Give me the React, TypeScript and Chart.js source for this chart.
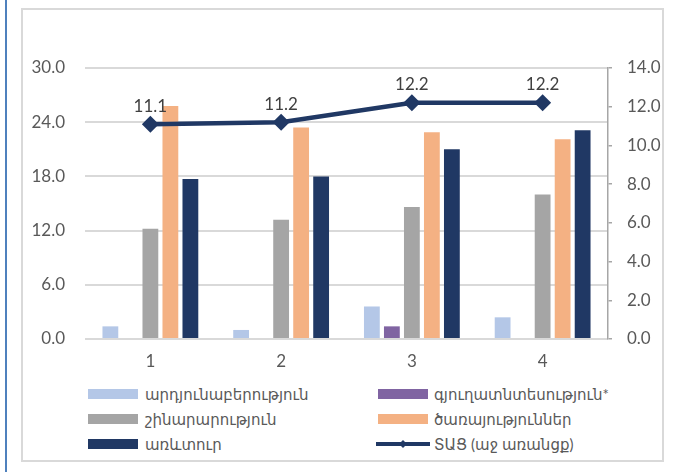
import React, { useEffect, useRef } from 'react';
import { Chart, registerables } from 'chart.js';

Chart.register(...registerables);

const categories = ['1', '2', '3', '4'];
const industry = [1.4, 1.0, 3.6, 2.4];
const agriculture = [null, null, 1.4, null];
const construction = [12.2, 13.2, 14.6, 16.0];
const services = [25.8, 23.4, 22.9, 22.1];
const trade = [17.7, 18.0, 21.0, 23.1];
const gdp = [11.1, 11.2, 12.2, 12.2];

const seriesNames = [
  'արդյունաբերություն',
  'գյուղատնտեսություն*',
  'շինարարություն',
  'ծառայություններ',
  'առևտուր',
  'ՏԱՑ (աջ առանցք)',
];
const seriesColors = ['#B4C7E7', '#8064A2', '#A5A5A5', '#F4B183', '#203864', '#203864'];

const FONT = "Lato, 'DejaVu Sans', sans-serif";
const TEXT = '#595959';

export default function App() {
  const ref = useRef<HTMLCanvasElement>(null);

  useEffect(() => {
    document.body.style.margin = '0';
    const canvas = ref.current!;
    const labelPlugin = {
      id: 'lineLabels',
      afterDatasetsDraw(chart: any) {
        const meta = chart.getDatasetMeta(0);
        const c = chart.ctx;
        c.save();
        c.font = `17px ${FONT}`;
        c.fillStyle = '#404040';
        c.textAlign = 'center';
        c.textBaseline = 'middle';
        meta.data.forEach((pt: any, i: number) => {
          c.fillText(gdp[i].toFixed(1), pt.x, pt.y - 18);
        });
        c.restore();
      },
    };
    const barSets = [industry, agriculture, construction, services, trade];
    const chart = new Chart(canvas, {
      type: 'bar',
      data: {
        labels: categories,
        datasets: [
          {
            type: 'line',
            label: seriesNames[5],
            data: gdp,
            yAxisID: 'y1',
            borderColor: seriesColors[5],
            backgroundColor: seriesColors[5],
            borderWidth: 4.5,
            pointStyle: 'rectRot',
            pointRadius: 8.5,
            pointBackgroundColor: seriesColors[5],
            pointBorderWidth: 0,
            order: 0,
          } as any,
          ...barSets.map((d, i) => ({
            type: 'bar',
            label: seriesNames[i],
            data: d,
            yAxisID: 'y',
            backgroundColor: seriesColors[i],
            borderWidth: 0,
            categoryPercentage: 0.765,
            barPercentage: 0.79,
            order: 1,
          })),
        ] as any,
      },
      options: {
        responsive: false,
        animation: false,
        layout: { padding: { top: 68, left: 0, right: 0, bottom: 0 } },
        plugins: { legend: { display: false }, tooltip: { enabled: false } },
        scales: {
          x: {
            grid: { display: false, drawTicks: false },
            border: { display: false },
            ticks: { color: TEXT, font: { family: FONT, size: 17 }, padding: 12 },
            afterFit(scale: any) {
              scale.height = 41;
            },
          },
          y: {
            position: 'left',
            min: 0,
            max: 30,
            ticks: {
              stepSize: 6,
              color: TEXT,
              padding: 20,
              font: { family: FONT, size: 17 },
              callback: (v: any) => Number(v).toFixed(1),
            },
            grid: { color: '#D9D9D9', lineWidth: 2, drawTicks: false },
            border: { display: false },
            afterFit(scale: any) {
              scale.width = 85;
            },
          },
          y1: {
            position: 'right',
            min: 0,
            max: 14,
            ticks: {
              stepSize: 2,
              color: TEXT,
              padding: 15,
              font: { family: FONT, size: 17 },
              callback: (v: any) => Number(v).toFixed(1),
            },
            grid: { drawOnChartArea: false, drawTicks: true, tickLength: 4, color: '#A6A6A6', lineWidth: 1.5 },
            border: { display: true, color: '#A6A6A6', width: 1.5 },
            afterFit(scale: any) {
              scale.width = 65;
            },
          },
        },
      } as any,
      plugins: [labelPlugin],
    });
    return () => chart.destroy();
  }, []);

  const legendItems = [0, 1, 2, 3, 4, 5];
  const colLeft = [88, 378];
  const textLeft = [145, 434];
  const rowY = [394, 419, 444];

  return (
    <div style={{ position: 'relative', width: 673, height: 472, background: '#fff', overflow: 'hidden', fontFamily: FONT }}>
      <div style={{ position: 'absolute', left: 5, top: 0, width: 2, height: 472, background: '#4F81BD' }} />
      <div
        style={{
          position: 'absolute',
          left: 21,
          top: 8,
          width: 643,
          height: 454,
          border: '2px solid #D9D9D9',
          boxSizing: 'border-box',
        }}
      />
      <canvas ref={ref} width={673} height={380} style={{ position: 'absolute', left: 0, top: 0, width: 673, height: 380 }} />
      {legendItems.map((i) => {
        const col = i % 2;
        const row = Math.floor(i / 2);
        const cy = rowY[row];
        const isLine = i === 5;
        return (
          <React.Fragment key={i}>
            {isLine ? (
              <svg style={{ position: 'absolute', left: colLeft[col] - 2, top: cy - 6 }} width={54} height={12}>
                <line x1={0} y1={6} x2={54} y2={6} stroke={seriesColors[i]} strokeWidth={4} />
                <polygon points="27,2 31,6 27,10 23,6" fill={seriesColors[i]} />
              </svg>
            ) : (
              <div
                style={{
                  position: 'absolute',
                  left: colLeft[col],
                  top: cy - 5,
                  width: 50,
                  height: 10,
                  background: seriesColors[i],
                }}
              />
            )}
            <div
              style={{
                position: 'absolute',
                left: textLeft[col],
                top: cy - 10,
                height: 20,
                lineHeight: '20px',
                fontSize: 15,
                color: TEXT,
                whiteSpace: 'nowrap',
              }}
            >
              {seriesNames[i]}
            </div>
          </React.Fragment>
        );
      })}
    </div>
  );
}
